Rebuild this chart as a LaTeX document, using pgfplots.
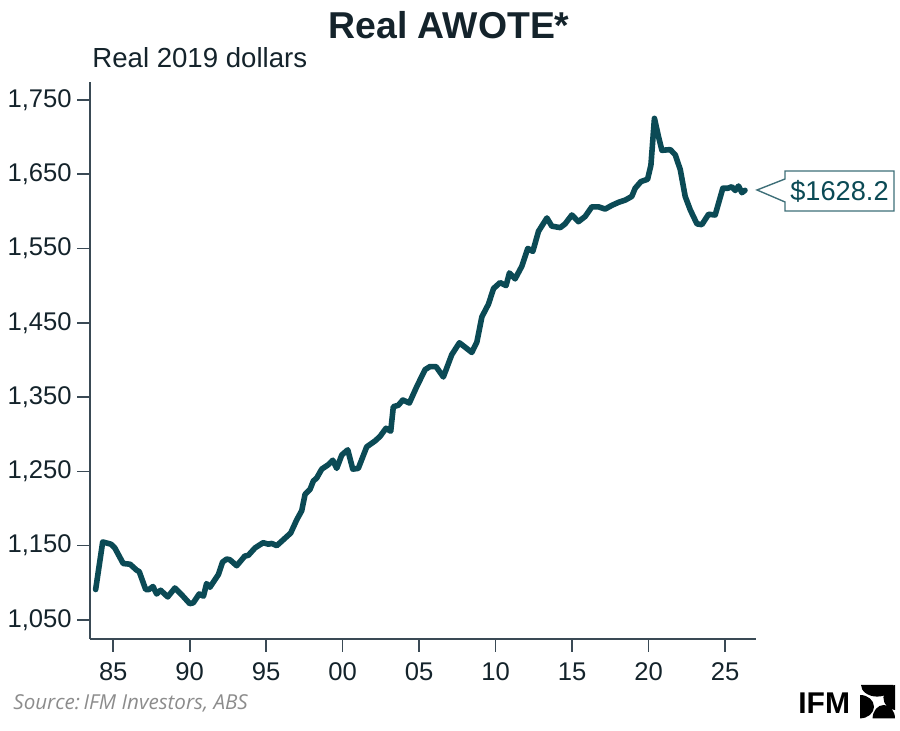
\documentclass[border=0pt]{standalone}
\usepackage{fontspec}
\setmainfont{Liberation Sans}
\newfontfamily\srcfont{Open Sans}
\usepackage{pgfplots}
\pgfplotsset{compat=1.18}
\usepackage{pgfplotstable}
\definecolor{linec}{HTML}{0B4A55}
\definecolor{axisc}{HTML}{3A4A55}
\definecolor{txtc}{HTML}{14232B}
\definecolor{boxc}{HTML}{3E6F78}
\definecolor{srcc}{HTML}{8C8C8C}

\pgfplotstableread{
year value
1983.85 1091
1984.31 1155
1984.85 1152
1985.10 1147
1985.65 1126
1986.10 1125
1986.53 1117
1986.70 1115
1987.12 1091
1987.33 1091
1987.60 1095
1987.84 1085
1988.10 1090
1988.56 1081
1989.03 1093
1989.47 1084
1990.00 1072
1990.23 1073
1990.62 1085
1990.90 1082
1991.10 1099
1991.32 1094
1991.87 1111
1992.15 1128
1992.42 1132
1992.63 1131
1993.07 1123
1993.60 1136
1993.83 1137
1994.27 1147
1994.80 1154
1995.14 1152
1995.36 1153
1995.69 1150
1996.12 1158
1996.60 1167
1997.00 1185
1997.32 1197
1997.54 1219
1997.87 1226
1998.08 1237
1998.30 1241
1998.63 1253
1999.06 1259
1999.35 1265
1999.61 1254
1999.94 1272
2000.33 1279
2000.66 1253
2001.02 1254
2001.57 1283
2002.12 1291
2002.44 1297
2002.83 1308
2003.14 1304
2003.31 1337
2003.64 1339
2003.93 1346
2004.36 1342
2004.84 1364
2005.39 1387
2005.71 1391
2006.10 1391
2006.58 1377
2007.13 1407
2007.63 1423
2008.07 1416
2008.44 1410
2008.77 1424
2009.10 1458
2009.53 1475
2009.86 1496
2010.29 1504
2010.68 1500
2010.90 1517
2011.27 1509
2011.71 1526
2012.10 1550
2012.43 1546
2012.80 1573
2013.35 1591
2013.67 1580
2014.22 1578
2014.54 1583
2014.98 1595
2015.41 1586
2015.85 1593
2016.29 1606
2016.72 1606
2017.16 1603
2017.60 1608
2018.03 1612
2018.47 1615
2018.90 1620
2019.12 1631
2019.50 1640
2019.93 1643
2020.15 1662
2020.38 1725
2020.65 1700
2020.87 1682
2021.41 1683
2021.74 1676
2022.07 1656
2022.39 1620
2022.72 1602
2023.16 1583
2023.48 1582
2023.92 1596
2024.35 1595
2024.85 1631
2025.18 1631
2025.44 1633
2025.66 1628
2025.88 1634
2026.10 1625
2026.30 1628.2
}\awote

\begin{document}
\begin{tikzpicture}
\useasboundingbox (0,0) rectangle (450pt,365.5pt);
\begin{axis}[
  at={(45pt,46pt)}, anchor=south west,
  scale only axis, width=332.85pt, height=278.5pt,
  xmin=1983.48, xmax=2027.0, ymin=1024.4, ymax=1774,
  axis x line=bottom, axis y line=left,
  axis line style={-, axisc, line width=0.8pt},
  tick style={axisc, line width=0.8pt},
  tick align=outside, major tick length=6.5pt,
  xtick={1985,1990,...,2025},
  xticklabels={85,90,95,00,05,10,15,20,25},
  ytick={1050,1150,1250,1350,1450,1550,1650,1750},
  /pgf/number format/assume math mode=true,
  /pgf/number format/1000 sep={,},
  ticklabel style={font=\fontsize{12.8}{15}\selectfont, text=txtc},
  xticklabel style={inner ysep=5pt},
  yticklabel style={inner xsep=2.5pt},
]
\addplot[linec, line width=2.8pt, line join=round, line cap=round] table[x=year, y=value] {\awote};
\end{axis}
\node[anchor=base, text=txtc, font=\fontsize{18.7}{22}\selectfont\bfseries] at (224.5pt,346pt) {Real AWOTE*};
\node[anchor=base west, inner sep=0pt, text=txtc, font=\fontsize{13.8}{16}\selectfont] at (46pt,331.5pt) {Real 2019 dollars};
\node[anchor=base west, inner sep=0pt, text=srcc, font=\srcfont\itshape\fontsize{10.3}{12}\selectfont] at (6.5pt,10.5pt) {Source:\,IFM Investors, ABS};
% callout
\draw[boxc, line width=0.7pt, fill=white, line join=miter] (378.5pt,270.5pt) -- (392.5pt,276pt) -- (392.5pt,280pt) -- (447pt,280pt) -- (447pt,260pt) -- (392.5pt,260pt) -- (392.5pt,264.5pt) -- cycle;
\node[text=linec, font=\fontsize{13.6}{16}\selectfont] at (419.75pt,270pt) {\$1628.2};
% logo
\node[anchor=base west, inner sep=0pt, text=black, font=\fontsize{15}{18}\selectfont\bfseries] at (399pt,8.5pt) {IFM};
\fill[black] (430.5pt,23pt) arc[start angle=180, end angle=360, x radius=8.1pt, y radius=5.8pt] -- cycle;
\fill[black] (430pt,18pt) arc[start angle=90, end angle=-90, x radius=7pt, y radius=5.85pt] -- cycle;
\fill[black] (447.5pt,23pt) arc[start angle=90, end angle=270, x radius=5.8pt, y radius=6.25pt] -- cycle;
\fill[black] (436.3pt,6.3pt) arc[start angle=180, end angle=0, x radius=5.6pt, y radius=6.7pt] -- cycle;
\end{tikzpicture}
\end{document}
